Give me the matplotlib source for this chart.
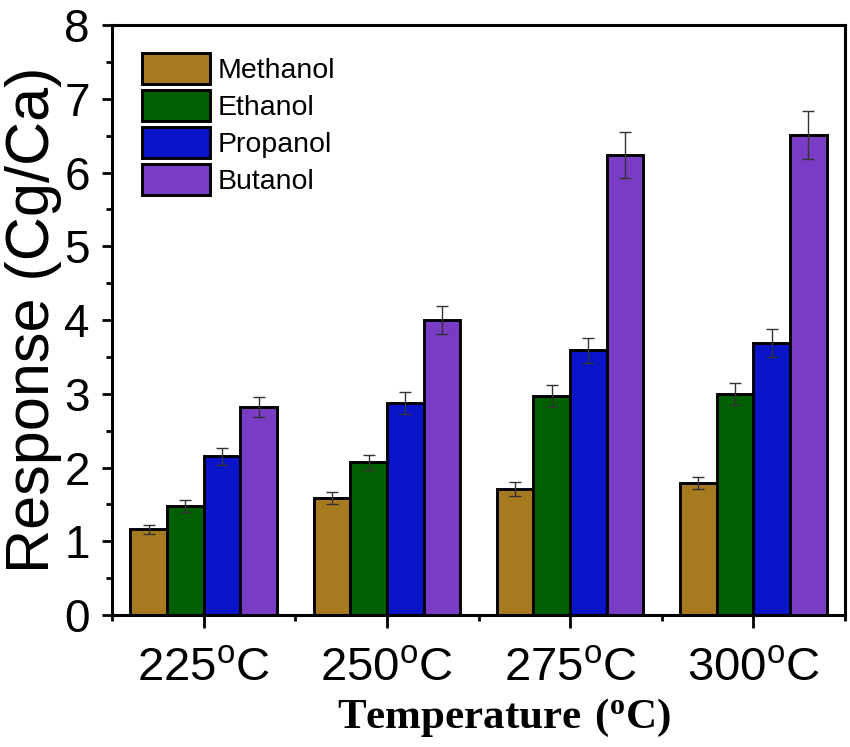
import matplotlib.pyplot as plt
import numpy as np

#values
temps = ["225", "250", "275", "300"]
alcohols = ["Methanol", "Ethanol", "Propanol", "Butanol"]
methanol = [1.16, 1.59, 1.71, 1.79]
ethanol = [1.48, 2.07, 2.97, 3.00]
propanol = [2.15, 2.87, 3.59, 3.69]
butanol = [2.82, 4.00, 6.24, 6.51]
methanol_err = [0.06, 0.08, 0.09, 0.08]
ethanol_err = [0.08, 0.10, 0.15, 0.15]
propanol_err = [0.12, 0.15, 0.17, 0.19]
butanol_err = [0.14, 0.19, 0.31, 0.32]

colors = ["#A67A1E", "#005F00", "#0A14C8", "#7A3CC4"]

plt.rcParams["font.family"] = ["Liberation Sans", "DejaVu Sans"]
plt.rcParams["mathtext.fontset"] = "custom"
plt.rcParams["mathtext.rm"] = "Liberation Sans"
plt.rcParams["mathtext.bf"] = "Liberation Serif:bold"

fig = plt.figure(figsize=(8.5, 7.47), dpi=100)
ax = fig.add_axes([0.1318, 0.1767, 0.8623, 0.7898])

x = np.arange(1, len(temps) + 1)
w = 0.2
series = [methanol, ethanol, propanol, butanol]
errs = [methanol_err, ethanol_err, propanol_err, butanol_err]
for i, (vals, err) in enumerate(zip(series, errs)):
    ax.bar(x + (i - 1.5) * w, vals, w, color=colors[i], edgecolor="black",
           linewidth=2.1, label=alcohols[i], zorder=2,
           yerr=err, error_kw=dict(ecolor="#333333", elinewidth=1.0,
                                   capsize=4.5, capthick=1.0, zorder=3))

ax.set_xlim(0.5, 4.5)
ax.set_ylim(0, 8)
ax.set_yticks(range(0, 9))
ax.set_yticks(np.arange(0.5, 8, 1), minor=True)
ax.set_xticks(x)
ax.set_xticks(np.arange(0.5, 4.6, 1), minor=True)
ax.set_xticklabels([t + r"$^{\mathrm{o}}$C" for t in temps], fontsize=34)
ax.tick_params(axis="y", which="major", labelsize=33, length=7, width=2, direction="out", pad=9)
ax.tick_params(axis="y", which="minor", length=4, width=2, direction="out")
ax.tick_params(axis="x", which="major", length=9, width=2, direction="out", pad=14)
ax.tick_params(axis="x", which="minor", length=4.5, width=2, direction="out")
for s in ax.spines.values():
    s.set_linewidth(2.2)

ax.set_ylabel("Response (Cg/Ca)", fontsize=44, labelpad=2)
ax.set_xlabel(r"$\mathbf{Temperature\ (^{o}C)}$", fontsize=31, labelpad=4, x=0.535)

ax.legend(loc="upper left", bbox_to_anchor=(0.041, 0.952), frameon=False,
          fontsize=20.5, handlelength=2.4, handleheight=1.3, handletextpad=0.25,
          labelspacing=0.2, borderpad=0, borderaxespad=0)

fig.savefig("out.png", dpi=100)
